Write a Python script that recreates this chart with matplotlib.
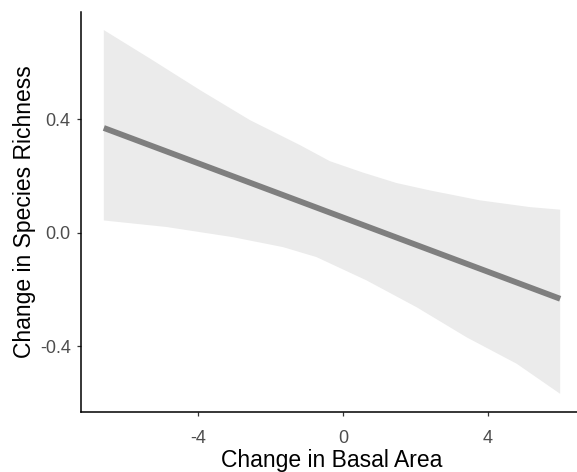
import matplotlib
matplotlib.use("Agg")
import matplotlib.pyplot as plt
import numpy as np

# Fitted line (Change in Basal Area -> Change in Species Richness)
line_x = [-6.6, 6.0]
line_y = [0.369, -0.233]

# Confidence band edges
upper_x = [-6.6, -5.33, -3.95, -2.57, -1.19, -0.36, 0.55, 1.48, 2.40, 3.78, 5.17, 6.0]
upper_y = [0.714, 0.614, 0.503, 0.397, 0.309, 0.252, 0.212, 0.175, 0.149, 0.114, 0.090, 0.081]
lower_x = [-6.6, -4.87, -3.03, -1.65, -0.73, 0.65, 2.04, 3.42, 4.80, 6.0]
lower_y = [0.043, 0.020, -0.016, -0.051, -0.086, -0.168, -0.263, -0.369, -0.462, -0.568]

x_ticks = [-4, 0, 4]
x_tick_labels = ["-4", "0", "4"]
y_ticks = [-0.4, 0.0, 0.4]
y_tick_labels = ["-0.4", "0.0", "0.4"]

plt.rcParams['font.family'] = ['Liberation Sans', 'DejaVu Sans']

W, H = 577, 472
fig = plt.figure(figsize=(W / 100, H / 100), dpi=100)
left, right, top, bottom = 81, 583, 11.9, 412
ax = fig.add_axes([left / W, (H - bottom) / H, (right - left) / W, (bottom - top) / H])

poly_x = list(upper_x) + list(lower_x[::-1])
poly_y = list(upper_y) + list(lower_y[::-1])
ax.fill(poly_x, poly_y, color="#EBEBEB", lw=0, zorder=1)
ax.plot(line_x, line_y, color="#7F7F7F", lw=4.2, solid_capstyle="butt", zorder=2)

ax.set_xlim(-7.23, 6.63)
ax.set_ylim(-0.632, 0.778)

ax.set_xticks(x_ticks)
ax.set_xticklabels(x_tick_labels)
ax.set_yticks(y_ticks)
ax.set_yticklabels(y_tick_labels)

for s in ["top", "right"]:
    ax.spines[s].set_visible(False)
for s in ["left", "bottom"]:
    ax.spines[s].set_linewidth(1.1)
    ax.spines[s].set_color("black")

ax.tick_params(axis="both", length=2.9, width=0.9, color="#333333",
               labelcolor="#4D4D4D", labelsize=13)
ax.tick_params(axis="x", pad=10)
ax.tick_params(axis="y", pad=4.5)

ax.set_xlabel("Change in Basal Area", fontsize=16.5, color="black", labelpad=1.5)
ax.set_ylabel("Change in Species Richness", fontsize=16.5, color="black", labelpad=3)

fig.savefig("out.png", dpi=100)
